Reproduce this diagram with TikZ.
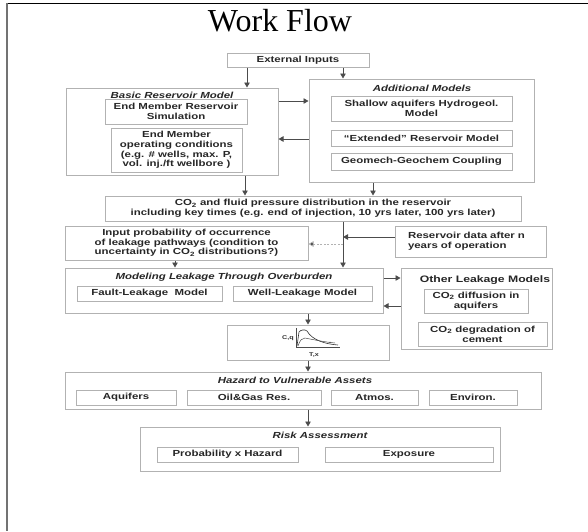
\documentclass[tikz,border=0pt]{standalone}
\usepackage{fontspec}
\setmainfont{Liberation Sans}[FakeStretch=1.3]
\newfontfamily\titlefont{Liberation Serif}
\usetikzlibrary{arrows.meta,calc}
\newcommand\boxfont{\fontsize{8.8}{9.7}\selectfont\bfseries}
\begin{document}
\begin{tikzpicture}[x=1pt,y=-1pt,
  box/.style={draw=gray!60, line width=1pt, inner sep=0pt, align=center, text=black!85, font=\boxfont},
  ttl/.style={inner sep=0pt, text=black!85, font=\boxfont\itshape},
  arr/.style={draw=black!70, line width=0.8pt, -{Triangle[width=5.5pt,length=5pt]}},
  darr/.style={draw=gray!60, line width=0.8pt, dashed, dash pattern=on 2pt off 1.5pt, -{Triangle[width=5.5pt,length=5pt,fill=black!80]}},
  tiny/.style={inner sep=0pt, font=\fontsize{5.5}{6}\selectfont\bfseries, text=black!80}
]
\useasboundingbox (0,0) rectangle (588,531);
% frame
\draw[line width=1pt, black] (7,3) -- (588,3);
\draw[line width=2pt, black!55] (7,3) -- (7,531);
% title
\node[anchor=base, inner sep=0pt, font=\titlefont\fontsize{32}{36}\selectfont] (title) at (280,31) {Work Flow};

% boxes
\node[box, minimum width=142, minimum height=14] (ext) at (298,60) {External Inputs};

\node[box, minimum width=212, minimum height=87] (basic) at (172,131.5) {};
\node[ttl] (basict) at (172,95) {Basic Reservoir Model};
\node[box, minimum width=142, minimum height=25] (bsim) at (176,111.5) {End Member Reservoir\\Simulation};
\node[box, minimum width=131, minimum height=44] (bop) at (176.5,150) {End Member\\operating conditions\\(e.g. \# wells, max. P,\\vol. inj./ft wellbore )};

\node[box, minimum width=225, minimum height=103] (add) at (421.5,130.5) {};
\node[ttl] (addt) at (422,88) {Additional Models};
\node[box, minimum width=181, minimum height=25] (shal) at (421.5,108.5) {Shallow aquifers Hydrogeol.\\Model};
\node[box, minimum width=181, minimum height=16] (extd) at (421.5,138) {“Extended” Reservoir Model};
\node[box, minimum width=181, minimum height=17] (geo) at (421.5,161.5) {Geomech-Geochem Coupling};

\node[box, minimum width=416, minimum height=25] (co2) at (313,208.5) {CO\textsubscript{2} and fluid pressure distribution in the reservoir\\including key times (e.g. end of injection, 10 yrs later, 100 yrs later)};

\node[box, minimum width=243, minimum height=34] (inp) at (186.5,243) {Input probability of occurrence\\of leakage pathways (condition to\\uncertainty in CO\textsubscript{2} distributions?)};

\node[box, text width=125, inner xsep=13, align=left, minimum height=31] (resd) at (470.5,241.5) {Reservoir data after n\\years of operation};

\node[box, minimum width=318, minimum height=45] (model) at (224,290.5) {};
\node[ttl] (modelt) at (224,277) {Modeling Leakage Through Overburden};
\node[box, minimum width=145, minimum height=15] (fault) at (149.5,293.5) {Fault-Leakage\ \ Model};
\node[box, minimum width=139, minimum height=15] (well) at (302.5,293.5) {Well-Leakage Model};

\node[box, minimum width=151, minimum height=81] (other) at (476.5,308.5) {};
\node[inner sep=0pt, text=black!85, font=\fontsize{9.4}{10}\selectfont\bfseries] (othert) at (485,280) {Other Leakage Models};
\node[box, minimum width=104, minimum height=24] (diff) at (476,301) {CO\textsubscript{2} diffusion in\\aquifers};
\node[box, minimum width=129, minimum height=24] (degr) at (482.5,334) {CO\textsubscript{2} degradation of\\cement};

\node[box, minimum width=162, minimum height=35] (graph) at (308,342.5) {};
% small plot
\draw[black!70, line width=0.6pt] (296,328) -- (296,347) -- (340,347);
\draw[black!80, line width=0.6pt] (297,346) -- (299,332) .. controls (300,330) and (305,329) .. (307,331) .. controls (312,340) and (325,344) .. (338,345);
\draw[black!70, line width=0.5pt] (298,346) .. controls (300,340) and (302,338) .. (305,338) .. controls (315,340) and (325,342) .. (335,343);
\fill[black!70] (330,342.3) circle (0.8);
\node[tiny] (cq) at (288,338) {C,q};
\node[tiny] (tx) at (314,355) {T,x};

\node[box, minimum width=476, minimum height=37] (haz) at (303,390.5) {};
\node[ttl] (hazt) at (295,380) {Hazard to Vulnerable Assets};
\node[box, minimum width=100, minimum height=15] (aq) at (126,397.5) {Aquifers};
\node[box, minimum width=134, minimum height=15] (og) at (254,397.5) {Oil\&Gas Res.};
\node[box, minimum width=87, minimum height=15] (atm) at (374.5,397.5) {Atmos.};
\node[box, minimum width=88, minimum height=15] (env) at (473,397.5) {Environ.};

\node[box, minimum width=360, minimum height=44] (risk) at (320,449) {};
\node[ttl] (riskt) at (320,435) {Risk Assessment};
\node[box, minimum width=141, minimum height=15] (prob) at (227.5,454.5) {Probability x Hazard};
\node[box, minimum width=168, minimum height=15] (expo) at (409,454.5) {Exposure};

% connector coordinates
\coordinate (x247) at (247,0);
\coordinate (x343) at (343,0);
\coordinate (x245) at (245,0);
\coordinate (x373) at (373,0);
\coordinate (x175) at (175,0);
\coordinate (x308) at (308,0);
\coordinate (y101) at (0,101);
\coordinate (y139) at (0,139);
\coordinate (y237) at (0,237);
\coordinate (y244) at (0,244);
\coordinate (y278) at (0,278);
\coordinate (y306) at (0,306);

\draw[arr] (x247 |- ext.south) -- (x247 |- basic.north);
\draw[arr] (x343 |- ext.south) -- (x343 |- add.north);
\draw[arr] (basic.east |- y101) -- (add.west |- y101);
\draw[arr] (add.west |- y139) -- (basic.east |- y139);
\draw[arr] (x245 |- basic.south) -- (x245 |- co2.north);
\draw[arr] (x373 |- add.south) -- (x373 |- co2.north);
\draw[arr] (x343 |- co2.south) -- (x343 |- model.north);
\draw[arr] (resd.west |- y237) -- (x343 |- y237);
\draw[darr] (x343 |- y244) -- (inp.east |- y244);
\draw[arr] (x175 |- inp.south) -- (x175 |- model.north);
\draw[arr] (model.east |- y278) -- (other.west |- y278);
\draw[arr] (other.west |- y306) -- (model.east |- y306);
\draw[arr] (x308 |- model.south) -- (x308 |- graph.north);
\draw[arr] (x308 |- graph.south) -- (x308 |- haz.north);
\draw[arr] (x308 |- haz.south) -- (x308 |- risk.north);
\end{tikzpicture}
\end{document}
